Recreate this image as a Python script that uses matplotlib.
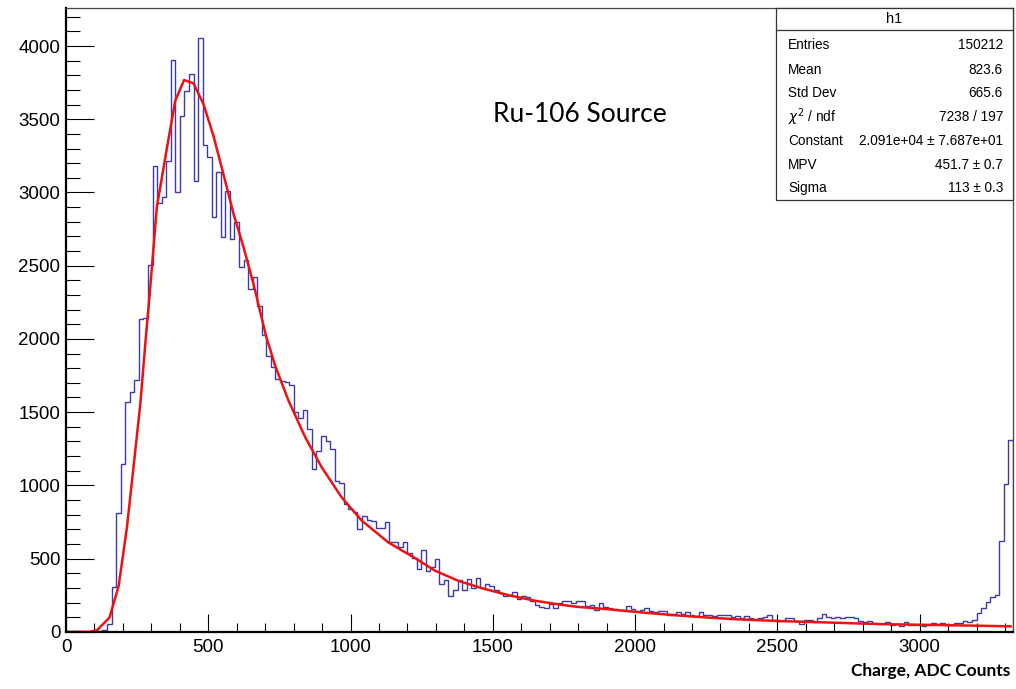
import numpy as np
import matplotlib.pyplot as plt
from matplotlib.patches import Rectangle

# histogram binning (208 bins of 16 ADC counts)
x_min, x_max, n_bins = 0, 3328, 208

# bin contents
counts = [
    0, 0, 0, 0, 0, 1, 3, 5, 10, 52,
    307, 813, 1143, 1567, 1637, 1717, 2135, 2142, 2504, 3182,
    2925, 2966, 3217, 3904, 3000, 3520, 3690, 3809, 3075, 4055,
    3324, 3244, 2830, 3137, 2693, 3007, 2682, 2800, 2488, 2538,
    2340, 2420, 2226, 2030, 1880, 1810, 1726, 1714, 1703, 1687,
    1498, 1459, 1516, 1384, 1111, 1236, 1338, 1304, 1247, 1027,
    1013, 872, 838, 815, 701, 792, 762, 758, 712, 708,
    751, 610, 610, 576, 610, 541, 505, 428, 558, 412,
    444, 496, 326, 353, 246, 285, 353, 285, 360, 298,
    367, 298, 326, 312, 285, 262, 244, 250, 271, 221,
    244, 239, 207, 184, 171, 162, 189, 166, 196, 207,
    207, 200, 209, 209, 177, 182, 148, 198, 168, 163,
    159, 148, 148, 177, 155, 141, 152, 163, 141, 132,
    141, 141, 118, 125, 136, 125, 132, 113, 109, 136,
    113, 118, 109, 113, 113, 113, 104, 109, 91, 109,
    97, 86, 97, 102, 113, 79, 77, 77, 91, 97,
    72, 56, 84, 79, 68, 95, 120, 102, 95, 100,
    97, 100, 104, 91, 72, 68, 72, 61, 50, 50,
    68, 45, 56, 41, 70, 45, 45, 45, 40, 45,
    63, 52, 63, 47, 47, 63, 59, 72, 68, 79,
    129, 166, 202, 239, 254, 619, 1006, 1309,
]

# Landau fit curve
fit_x = [0, 83, 109, 153, 185, 214, 237, 261, 280, 294, 319, 355, 384, 415,
         448, 483, 518, 553, 589, 624, 659, 703, 735, 782, 841, 899, 969,
         1040, 1133, 1233, 1297, 1379, 1461, 1555, 1649, 1742, 1800, 1906,
         2024, 2141, 2258, 2372, 2486, 2603, 2720, 2837, 2943, 3048, 3165,
         3306, 3320]
fit_y = [0, 0, 11, 98, 314, 713, 1122, 1555, 2000, 2306, 2898, 3308, 3627,
         3768, 3745, 3604, 3387, 3126, 2852, 2625, 2374, 2020, 1817, 1578,
         1327, 1122, 917, 758, 610, 496, 417, 348, 298, 250, 212, 184, 170,
         154, 132, 113, 97, 84, 75, 68, 61, 54, 50, 47, 43, 38, 37]

stats_names = ['Entries', 'Mean', 'Std Dev', r'$\chi^2$ / ndf', 'Constant', 'MPV', 'Sigma']
stats_values = ['150212', '823.6', '665.6', '7238 / 197',
                '2.091e+04 ± 7.687e+01', '451.7 ± 0.7', '113 ± 0.3']

plt.rcParams['font.family'] = ['Liberation Sans', 'DejaVu Sans']

fig = plt.figure(figsize=(10.16, 6.89), dpi=100)
ax = fig.add_axes([0.065, 0.083, 0.932, 0.905])

edges = np.linspace(x_min, x_max, n_bins + 1)
ax.stairs(counts, edges, color='#3a3aae', lw=1.0)
ax.plot(fit_x, fit_y, color='#ee1111', lw=1.8)

ax.set_xlim(x_min, x_max)
ax.set_ylim(0, 1.05 * max(counts))

ax.set_xticks(np.arange(0, 3001, 500))
ax.set_xticks(np.arange(0, 3301, 100), minor=True)
ax.set_yticks(np.arange(0, 4001, 500))
ax.set_yticks(np.arange(0, 4201, 100), minor=True)

ax.tick_params(axis='x', which='major', direction='in', length=13, width=0.8,
               labelsize=13.5, pad=5)
ax.tick_params(axis='x', which='minor', direction='in', length=6.5, width=0.8)
ax.tick_params(axis='y', which='major', direction='in', length=20, width=0.8,
               labelsize=13.5, pad=4)
ax.tick_params(axis='y', which='minor', direction='in', length=10, width=0.8)

for side in ['bottom', 'left']:
    ax.spines[side].set_linewidth(1.6)
for side in ['top', 'right']:
    ax.spines[side].set_linewidth(0.9)
    ax.spines[side].set_color('#444444')

# stats box
box_left, box_bottom = 0.7497, 0.692
ax.add_patch(Rectangle((box_left, box_bottom), 1 - box_left, 1 - box_bottom,
                       transform=ax.transAxes, facecolor='white',
                       edgecolor='#333333', lw=0.9, zorder=5, clip_on=False))
ax.plot([box_left, 1], [0.965, 0.965], transform=ax.transAxes,
        color='#333333', lw=0.9, zorder=6, clip_on=False)
ax.text((box_left + 1) / 2, 0.9824, 'h1', transform=ax.transAxes,
        ha='center', va='center', fontsize=10.5, zorder=7)
row_y = [0.9407, 0.9006, 0.8638, 0.8253, 0.7869, 0.7484, 0.7115]
for name, val, yy in zip(stats_names, stats_values, row_y):
    ax.text(0.7624, yy, name, transform=ax.transAxes, ha='left', va='center',
            fontsize=9.8, zorder=7)
    ax.text(0.9894, yy, val, transform=ax.transAxes, ha='right', va='center',
            fontsize=9.8, zorder=7)

fig.text(0.571, 0.8345, 'Ru-106 Source', fontsize=19, family='Lato',
         ha='center', va='center')
fig.text(0.994, 0.026, 'Charge, ADC Counts', fontsize=12.5, family='Lato',
         fontweight='bold', ha='right', va='center')

fig.savefig('out.png', dpi=100)
